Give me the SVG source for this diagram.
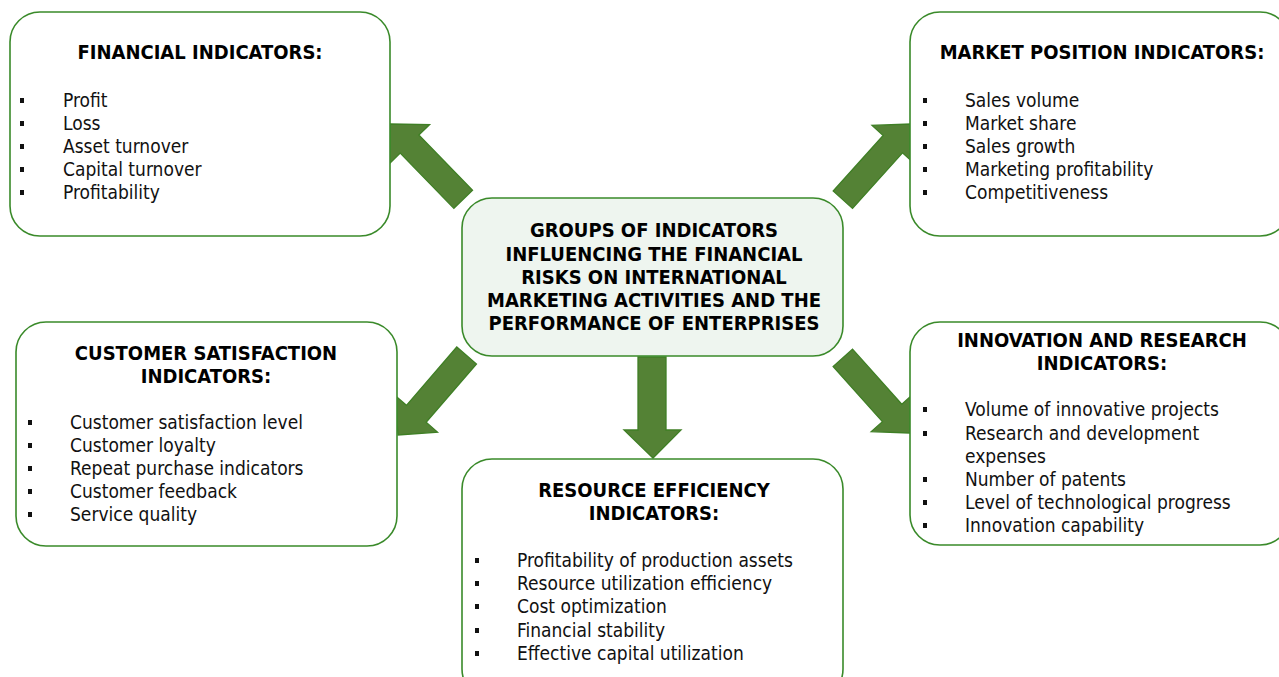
<svg xmlns="http://www.w3.org/2000/svg" width="1279" height="677" viewBox="0 0 1279 677">
<style>
.box{fill:#ffffff;stroke:#3a8a2a;stroke-width:1.6}
.center{fill:#eef5ef;stroke:#3a8a2a;stroke-width:1.6}
.arrow{fill:#548235;stroke:#3f7f25;stroke-width:1.3}
.t{font-family:"DejaVu Sans Condensed","DejaVu Sans",sans-serif;font-weight:bold;font-size:20px;fill:#000;text-anchor:middle}
.i{font-family:"DejaVu Sans Condensed","DejaVu Sans",sans-serif;font-size:19px;fill:#111}
.b{fill:#111}
</style>
<defs>
<path id="arr" d="M0,0 L-28,-28 L-13,-28 L-13,-105 L13,-105 L13,-28 L28,-28 Z"/>
<rect id="bul" x="-2" y="-3" width="4" height="5"/>
</defs>
<rect width="1279" height="677" fill="#ffffff"/>

<g id="connectors">
<use href="#arr" class="arrow" transform="translate(390,124) rotate(135.8)"/>
<use href="#arr" class="arrow" transform="translate(911,124) rotate(-138) scale(1,0.97)"/>
<use href="#arr" class="arrow" transform="translate(398,435) rotate(40.8)"/>
<use href="#arr" class="arrow" transform="translate(910,433) rotate(-41.8) scale(1,0.96)"/>
<path class="arrow" d="M638,357 L666,357 L666,430 L681,430 L653,458 L624,430 L638,430 Z"/>
</g>

<g id="financial">
<rect class="box" x="10" y="12" width="380" height="224" rx="30"/>
<text class="t" x="200" y="59">FINANCIAL INDICATORS:</text>
<g class="b"><use href="#bul" x="22" y="101"/><use href="#bul" x="22" y="124"/><use href="#bul" x="22" y="147"/><use href="#bul" x="22" y="170"/><use href="#bul" x="22" y="193"/></g>
<text class="i" x="63" y="107">Profit</text>
<text class="i" x="63" y="130">Loss</text>
<text class="i" x="63" y="153">Asset turnover</text>
<text class="i" x="63" y="176">Capital turnover</text>
<text class="i" x="63" y="199">Profitability</text>
</g>

<g id="market">
<rect class="box" x="910" y="12" width="380" height="224" rx="30"/>
<text class="t" x="1102" y="59">MARKET POSITION INDICATORS:</text>
<g class="b"><use href="#bul" x="925" y="101"/><use href="#bul" x="925" y="124"/><use href="#bul" x="925" y="147"/><use href="#bul" x="925" y="170"/><use href="#bul" x="925" y="193"/></g>
<text class="i" x="965" y="107">Sales volume</text>
<text class="i" x="965" y="130">Market share</text>
<text class="i" x="965" y="153">Sales growth</text>
<text class="i" x="965" y="176">Marketing profitability</text>
<text class="i" x="965" y="199">Competitiveness</text>
</g>

<g id="center">
<rect class="center" x="462" y="198" width="381" height="158" rx="30"/>
<text class="t" x="654" y="237">GROUPS OF INDICATORS</text>
<text class="t" x="654" y="261">INFLUENCING THE FINANCIAL</text>
<text class="t" x="654" y="284">RISKS ON INTERNATIONAL</text>
<text class="t" x="654" y="307">MARKETING ACTIVITIES AND THE</text>
<text class="t" x="654" y="330">PERFORMANCE OF ENTERPRISES</text>
</g>

<g id="customer">
<rect class="box" x="16" y="322" width="381" height="224" rx="30"/>
<text class="t" x="206" y="360">CUSTOMER SATISFACTION</text>
<text class="t" x="206" y="383">INDICATORS:</text>
<g class="b"><use href="#bul" x="30" y="423"/><use href="#bul" x="30" y="446"/><use href="#bul" x="30" y="469"/><use href="#bul" x="30" y="492"/><use href="#bul" x="30" y="515"/></g>
<text class="i" x="70" y="429">Customer satisfaction level</text>
<text class="i" x="70" y="452">Customer loyalty</text>
<text class="i" x="70" y="475">Repeat purchase indicators</text>
<text class="i" x="70" y="498">Customer feedback</text>
<text class="i" x="70" y="521">Service quality</text>
</g>

<g id="innovation">
<rect class="box" x="910" y="322" width="380" height="223" rx="30"/>
<text class="t" x="1102" y="347">INNOVATION AND RESEARCH</text>
<text class="t" x="1102" y="370">INDICATORS:</text>
<g class="b"><use href="#bul" x="925" y="410"/><use href="#bul" x="925" y="434"/><use href="#bul" x="925" y="480"/><use href="#bul" x="925" y="503"/><use href="#bul" x="925" y="526"/></g>
<text class="i" x="965" y="416">Volume of innovative projects</text>
<text class="i" x="965" y="440">Research and development</text>
<text class="i" x="965" y="463">expenses</text>
<text class="i" x="965" y="486">Number of patents</text>
<text class="i" x="965" y="509">Level of technological progress</text>
<text class="i" x="965" y="532">Innovation capability</text>
</g>

<g id="resource">
<rect class="box" x="462" y="459" width="381" height="240" rx="30"/>
<text class="t" x="654" y="497">RESOURCE EFFICIENCY</text>
<text class="t" x="654" y="520">INDICATORS:</text>
<g class="b"><use href="#bul" x="477" y="561"/><use href="#bul" x="477" y="584"/><use href="#bul" x="477" y="607"/><use href="#bul" x="477" y="631"/><use href="#bul" x="477" y="654"/></g>
<text class="i" x="517" y="567">Profitability of production assets</text>
<text class="i" x="517" y="590">Resource utilization efficiency</text>
<text class="i" x="517" y="613">Cost optimization</text>
<text class="i" x="517" y="637">Financial stability</text>
<text class="i" x="517" y="660">Effective capital utilization</text>
</g>
</svg>
